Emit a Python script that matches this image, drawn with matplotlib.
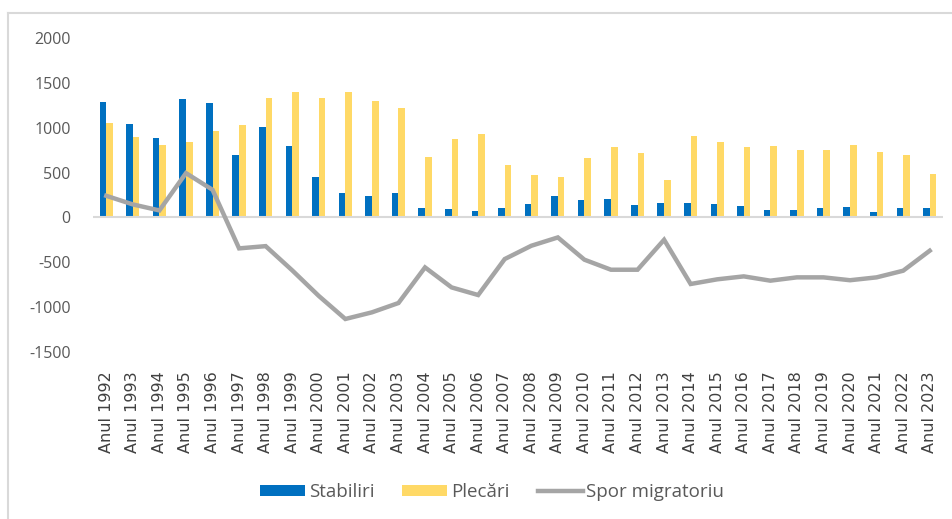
import numpy as np
import matplotlib
matplotlib.use("Agg")
import matplotlib.pyplot as plt
from matplotlib.lines import Line2D

years = [str(y) for y in range(1992, 2024)]
labels = ["Anul " + y for y in years]

stabiliri = [1288, 1036, 883, 1325, 1273, 694, 1010, 794, 453, 267, 238, 267,
             100, 89, 74, 100, 152, 238, 189, 200, 137, 163, 163, 148,
             122, 85, 85, 100, 111, 59, 100, 100]
plecari = [1047, 898, 805, 843, 958, 1032, 1336, 1399, 1336, 1403, 1303, 1225,
           672, 872, 932, 579, 468, 453, 657, 783, 716, 412, 909, 843,
           783, 794, 757, 757, 805, 731, 694, 479]
spor = [241, 145, 78, 494, 308, -345, -320, -590, -875, -1132, -1058, -954,
        -557, -780, -865, -464, -316, -223, -471, -583, -583, -249, -742, -690,
        -657, -705, -668, -668, -700, -668, -594, -371]

plt.rcParams["font.family"] = ["Open Sans", "DejaVu Sans"]
plt.rcParams["axes.unicode_minus"] = False

fig = plt.figure(figsize=(9.53, 5.19), dpi=100)
ax = fig.add_axes([93 / 953, 1 - 352 / 519, 850 / 953, 314 / 519])

x = np.arange(len(years))
w = 0.25
b1 = ax.bar(x - w / 2, stabiliri, w, color="#0070C0", label="Stabiliri")
b2 = ax.bar(x + w / 2, plecari, w, color="#FFD966", label="Plecări")
ax.axhline(0, color="#D9D9D9", lw=1.5, zorder=1)
l1, = ax.plot(x, spor, color="#A5A5A5", lw=3.2, label="Spor migratoriu",
              solid_joinstyle="miter")

ax.set_xlim(-0.5, len(years) - 0.5)
ax.set_ylim(-1500, 2000)
ax.set_yticks(range(-1500, 2001, 500))
ax.set_xticks(x)
ax.set_xticklabels(labels, rotation=90, family="DejaVu Sans")
ax.tick_params(axis="y", length=0, pad=16, labelsize=11.5, labelcolor="#595959")
ax.tick_params(axis="x", length=0, pad=14, labelsize=11.5, labelcolor="#404040")
for s in ax.spines.values():
    s.set_visible(False)

fig.legend([b1, b2, l1], ["Stabiliri", "Plecări", "Spor migratoriu"],
           loc="center", bbox_to_anchor=(492 / 953, 1 - 492 / 519), ncol=3,
           frameon=False, fontsize=13.5, handlelength=2.4, handleheight=0.48,
           columnspacing=1.5, handletextpad=0.2, labelcolor="#595959")

# light border of the chart area
fig.add_artist(Line2D([8 / 953, 8 / 953], [0, 1 - 13 / 519],
                      transform=fig.transFigure, color="#D9D9D9", lw=1.5))
fig.add_artist(Line2D([8 / 953, 1], [1 - 13 / 519, 1 - 13 / 519],
                      transform=fig.transFigure, color="#D9D9D9", lw=1.5))

fig.savefig("out.png", dpi=100)
